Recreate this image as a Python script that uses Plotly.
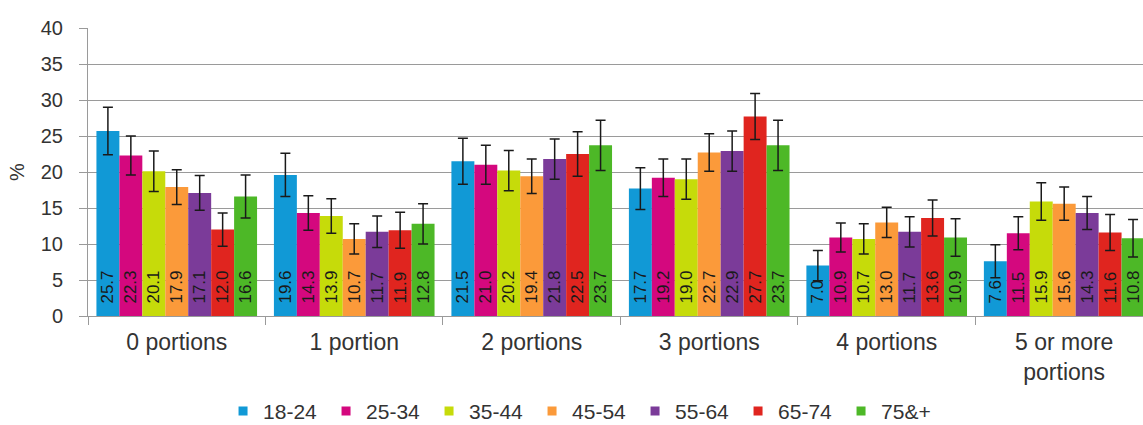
import plotly.graph_objects as go

categories = ["0 portions", "1 portion", "2 portions", "3 portions", "4 portions", "5 or more<br>portions"]
age_groups = ["18-24", "25-34", "35-44", "45-54", "55-64", "65-74", "75&+"]
colors = ["#1199d6", "#d4087e", "#c6db0a", "#fb9a3a", "#7b3b99", "#e0251f", "#4db827"]

values = {
    "18-24": [25.7, 19.6, 21.5, 17.7, 7.0, 7.6],
    "25-34": [22.3, 14.3, 21.0, 19.2, 10.9, 11.5],
    "35-44": [20.1, 13.9, 20.2, 19.0, 10.7, 15.9],
    "45-54": [17.9, 10.7, 19.4, 22.7, 13.0, 15.6],
    "55-64": [17.1, 11.7, 21.8, 22.9, 11.7, 14.3],
    "65-74": [12.0, 11.9, 22.5, 27.7, 13.6, 11.6],
    "75&+":  [16.6, 12.8, 23.7, 23.7, 10.9, 10.8],
}

# 95% confidence half-widths
errors = {
    "18-24": [3.3, 3.0, 3.2, 2.9, 2.1, 2.3],
    "25-34": [2.7, 2.4, 2.7, 2.6, 2.0, 2.3],
    "35-44": [2.8, 2.4, 2.8, 2.8, 2.1, 2.6],
    "45-54": [2.4, 2.1, 2.4, 2.6, 2.1, 2.3],
    "55-64": [2.4, 2.2, 2.8, 2.8, 2.1, 2.3],
    "65-74": [2.3, 2.5, 3.1, 3.2, 2.5, 2.5],
    "75&+":  [3.0, 2.8, 3.5, 3.5, 2.6, 2.6],
}

FONT = "Liberation Sans, Arial, sans-serif"
PAD = "\u00a0\u00a0"  # lifts the value labels a little off the baseline

fig = go.Figure()
for name, col in zip(age_groups, colors):
    vals = values[name]
    fig.add_trace(go.Bar(
        name=name,
        x=categories,
        y=vals,
        legendgroup=name,
        showlegend=False,
        marker=dict(color=col, line=dict(width=0)),
        error_y=dict(type="data", array=errors[name], visible=True,
                     color="#1a1a1a", thickness=1.5, width=5),
        text=[PAD + f"{v:.1f}" for v in vals],
        textposition="inside",
        insidetextanchor="start",
        textangle=-90,
        textfont=dict(color="#1a1a1a", size=17, family=FONT),
        cliponaxis=False,
    ))

# small square legend keys
for name, col in zip(age_groups, colors):
    fig.add_trace(go.Scatter(
        name=name, x=[categories[0]], y=[None], mode="markers",
        legendgroup=name,
        marker=dict(symbol="square", size=9, color=col),
        hoverinfo="skip",
    ))

fig.update_layout(
    width=1143, height=425,
    margin=dict(l=88, r=0, t=28, b=109, autoexpand=False),
    paper_bgcolor="white", plot_bgcolor="white",
    barmode="group", bargap=0.095, bargroupgap=0,
    font=dict(family=FONT, color="#333333"),
    uniformtext=dict(minsize=17, mode="show"),
    showlegend=True,
    legend=dict(orientation="h", x=0.128, xanchor="left", y=-0.331, yanchor="middle",
                font=dict(size=21, color="#333333", family=FONT),
                entrywidth=58, entrywidthmode="pixels",
                itemwidth=30, traceorder="normal", bgcolor="rgba(0,0,0,0)"),
)

fig.update_yaxes(
    range=[0, 40], dtick=5, tick0=0,
    showgrid=True, gridcolor="#9a9a9a", gridwidth=1,
    showline=True, linecolor="#9a9a9a", linewidth=1,
    ticks="outside", ticklen=8, tickcolor="#9a9a9a",
    tickfont=dict(size=20, color="#333333"), ticklabelstandoff=12,
    zeroline=False,
    title=dict(text="%", font=dict(size=20, color="#333333"), standoff=10),
)

fig.update_xaxes(
    range=[-0.5, 5.444],
    showline=True, linecolor="#9a9a9a", linewidth=1,
    ticks="outside", tickson="boundaries", ticklen=8, tickcolor="#9a9a9a",
    tickfont=dict(size=23, color="#333333"), ticklabelstandoff=5,
    showgrid=False,
)

fig.write_html("out.html")
